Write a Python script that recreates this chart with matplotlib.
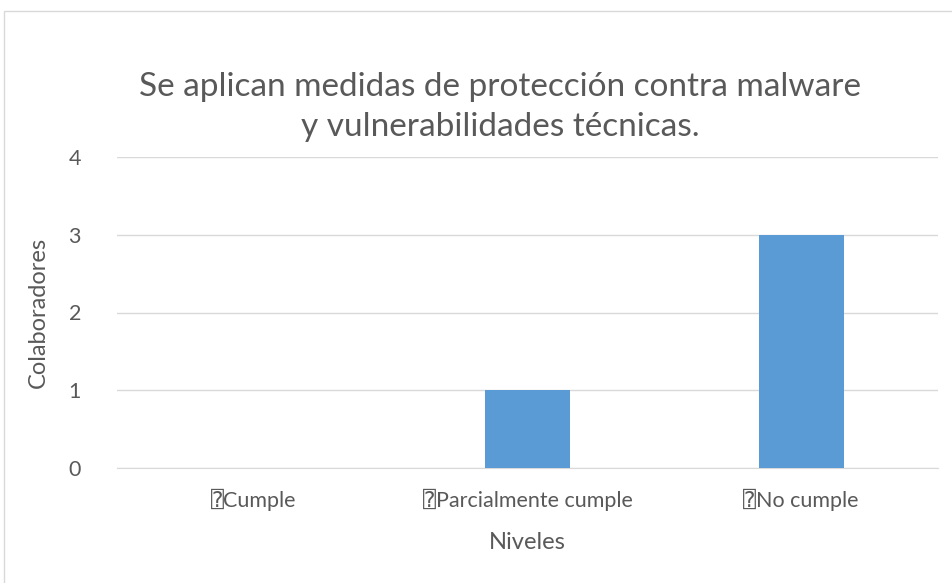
import matplotlib.pyplot as plt
from matplotlib.patches import Rectangle

categorias = ["\u2370Cumple", "\u2370Parcialmente cumple", "\u2370No cumple"]
valores = [0, 1, 3]
titulo = "Se aplican medidas de protección contra malware\ny vulnerabilidades técnicas."

gris = "#595959"
fuente = ["Lato", "DejaVu Sans", "DejaVu Sans Mono"]
plt.rcParams["font.family"] = fuente

fig = plt.figure(figsize=(9.53, 5.83), dpi=100)
# borde del área del gráfico
fig.patches.append(Rectangle((4 / 953, -0.01), 1.0, 1 - 11 / 583 + 0.01,
                             transform=fig.transFigure, fill=False,
                             edgecolor="#D9D9D9", linewidth=1))

ax = fig.add_axes([117 / 953, 1 - 468 / 583, (938 - 117) / 953, (468 - 157) / 583])
x = range(len(categorias))
ax.bar(x, valores, width=0.31, color="#5B9BD5", zorder=3)
ax.set_xlim(-0.5, 2.5)
ax.set_ylim(0, 4)
ax.set_yticks([0, 1, 2, 3, 4])
ax.set_xticks(list(x))
ax.set_xticklabels(categorias)
ax.grid(axis="y", color="#D9D9D9", linewidth=1, zorder=0)
for s in ["top", "right", "left"]:
    ax.spines[s].set_visible(False)
ax.spines["bottom"].set_color("#D9D9D9")
ax.tick_params(length=0, labelsize=15.5, colors=gris, pad=15)
ax.tick_params(axis="y", pad=26)

ax.set_xlabel("Niveles", fontsize=17, color=gris, labelpad=15)
ax.set_ylabel("Colaboradores", fontsize=17, color=gris, labelpad=14)

fig.text(0.525, 1 - 107 / 583, titulo, ha="center", va="center",
         fontsize=24, color=gris, linespacing=1.38)

fig.savefig("out.png", dpi=100)
